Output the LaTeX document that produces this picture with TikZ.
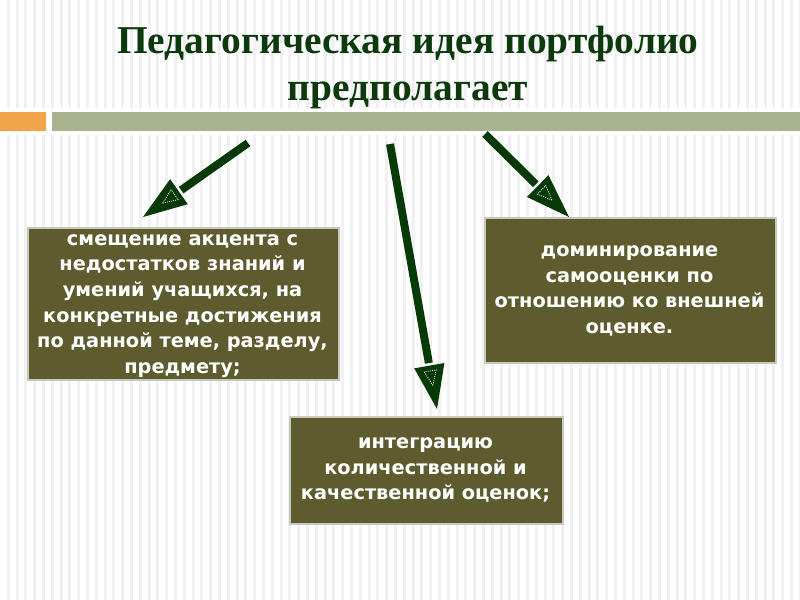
\documentclass[tikz,border=0pt]{standalone}
\usepackage{fontspec}
\setmainfont{Liberation Serif}
\newfontfamily\boxfont{DejaVu Sans}
\usetikzlibrary{calc}
\definecolor{titlegreen}{RGB}{12,58,12}
\definecolor{arrowgreen}{RGB}{8,58,8}
\definecolor{boxfill}{RGB}{94,92,46}
\definecolor{boxedge}{RGB}{200,200,188}
\definecolor{barorange}{RGB}{240,165,75}
\definecolor{bargreen}{RGB}{167,180,143}
\definecolor{stripe}{RGB}{241,241,241}
\tikzset{
  titletext/.style={font=\fontsize{29.6}{34}\selectfont\bfseries, text=titlegreen, anchor=base, inner sep=0pt},
  olivebox/.style={fill=boxfill, draw=boxedge, line width=1.5pt},
  boxtext/.style={font=\boxfont\bfseries\fontsize{14.5}{19.2}\selectfont, text=white, align=center, inner sep=0pt},
  shaft/.style={draw=arrowgreen, line width=6pt},
  headfill/.style={fill=arrowgreen},
  innertri/.style={draw=white, line width=0.5pt, dash pattern=on 0.8pt off 0.8pt},
}
\newcommand\drawarrowx[2]{%
  \coordinate (#2b) at ($(#2)!33pt!(#1)$);
  \draw[shaft] (#1) -- ($(#2b)!-2pt!(#2)$);
  \fill[headfill] (#2) -- ($(#2b)!11.5pt!90:(#2)$) -- ($(#2b)!11.5pt!-90:(#2)$) -- cycle;
  \coordinate (#2ib) at ($(#2b)!4pt!(#2)$);
  \coordinate (#2it) at ($(#2b)!15pt!(#2)$);
  \draw[innertri] (#2it) -- ($(#2ib)!4.5pt!90:(#2it)$) -- ($(#2ib)!4.5pt!-90:(#2it)$) -- cycle;
}
\begin{document}
\begin{tikzpicture}[x=0.75pt,y=-0.75pt]
\useasboundingbox (0,0) rectangle (800,600);
\fill[white] (0,0) rectangle (800,600);
\foreach \i in {0,...,91} {
  \fill[stripe] ({8.3+8.8*\i-1.5},0) rectangle ({8.3+8.8*\i+1.5},600);
}
% bars
\fill[white] (0,108) rectangle (800,135);
\node[draw=none, fill=barorange, minimum width=34.5pt, minimum height=14.25pt, inner sep=0pt, anchor=north west] (obar) at (0,112) {};
\node[draw=none, fill=bargreen, minimum width=561pt, minimum height=14.25pt, inner sep=0pt, anchor=north west] (gbar) at (52,112) {};
% title
\node[titletext] (t1) at (408,53) {Педагогическая идея портфолио};
\node[titletext] (t2) at (408,100) {предполагает};
% boxes
\node[olivebox, minimum width=233.25pt, minimum height=114pt, inner sep=0pt, anchor=north west] (b1) at (27,227) {};
\node[boxtext] (b1t) at (182.5,306) {смещение акцента с\\недостатков знаний и\\умений учащихся, на\\конкретные достижения\\по данной теме, разделу,\\предмету;};
\node[olivebox, minimum width=218.25pt, minimum height=108.75pt, inner sep=0pt, anchor=north west] (b2) at (484,217) {};
\node[boxtext] (b2t) at (629.5,291) {доминирование\\самооценки по\\отношению ко внешней\\оценке.};
\node[olivebox, minimum width=204.75pt, minimum height=80.25pt, inner sep=0pt, anchor=north west] (b3) at (289,416) {};
\node[boxtext] (b3t) at (425.5,470) {интеграцию\\количественной и\\качественной оценок;};
% arrows
\coordinate (s1) at (248,143);
\coordinate (e1) at (143,217);
\coordinate (s2) at (390,144);
\coordinate (e2) at (437,409);
\coordinate (s3) at (485,134);
\coordinate (e3) at (569,217);
\drawarrowx{s1}{e1}
\drawarrowx{s2}{e2}
\drawarrowx{s3}{e3}
\end{tikzpicture}
\end{document}
